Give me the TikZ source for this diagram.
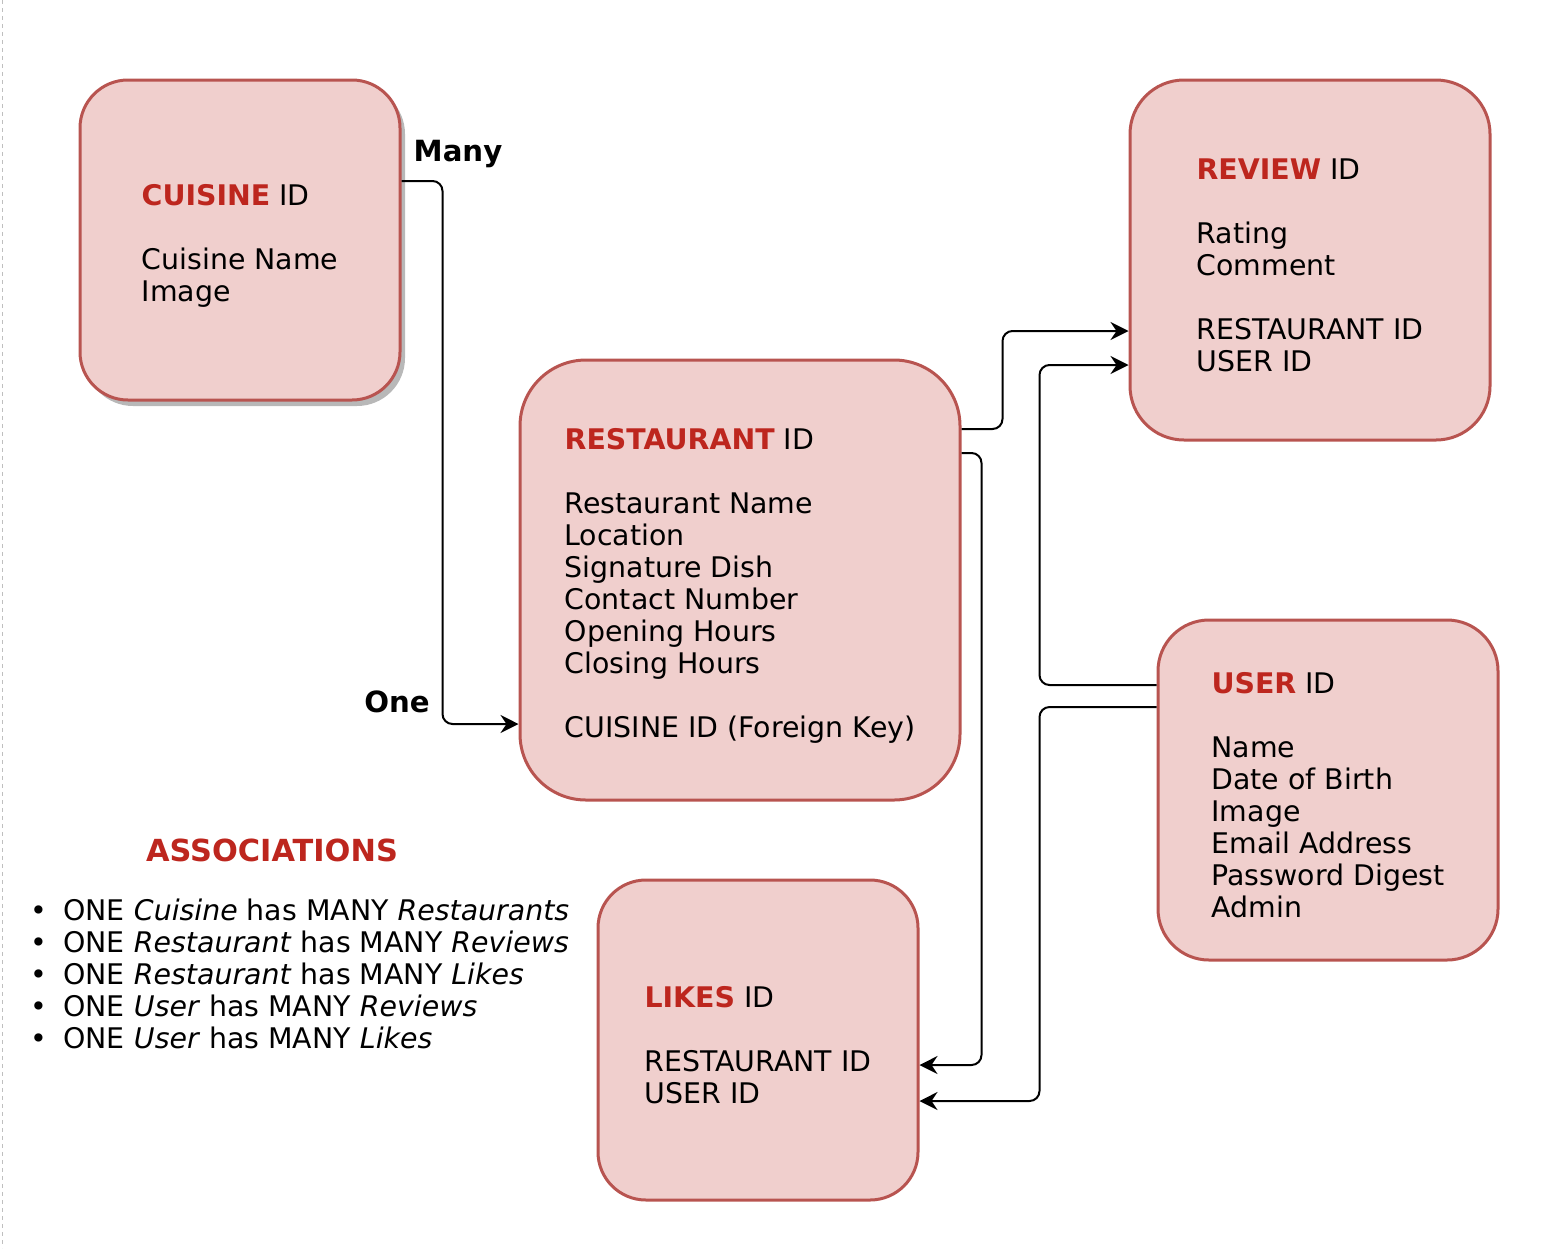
\documentclass[tikz,border=0pt]{standalone}
\usepackage{fontspec}
\setmainfont{DejaVu Sans}
\usepackage{tikz}
\usetikzlibrary{positioning,arrows.meta,shadows}
\definecolor{boxfill}{RGB}{240,207,205}
\definecolor{boxline}{RGB}{184,84,80}
\definecolor{titlered}{RGB}{189,38,30}
\newcommand{\enttitle}[1]{\rule{0pt}{16pt}\textbf{\textcolor{titlered}{#1}} ID}
\newcommand{\assocbul}{\makebox[16.5pt][l]{\textbullet}}

\begin{document}
\begin{tikzpicture}[x=0.5pt, y=-0.5pt,
    every node/.style={font=\fontsize{14.2}{16}\selectfont},
    entity/.style={draw=boxline, fill=boxfill, line width=1.5pt,
      rounded corners=#1, align=left},
    link/.style={-{Stealth[length=9pt,width=9pt,inset=3pt]},
      line width=1pt, rounded corners=5pt},
    card/.style={font=\fontsize{14.6}{16}\selectfont\bfseries}]
        \useasboundingbox (0,0) rectangle (1556,1248);
        % page edge
        \draw[gray!50, line width=0.5pt, dash pattern=on 2pt off 2pt]
              (2,0) -- (2,1248);
        % entities
        \node[entity=24pt, minimum width=160pt, minimum height=160pt,
              drop shadow={shadow xshift=2.5pt, shadow yshift=-3pt,
              fill=black!28, opacity=1}] (cuisine) at (240,240)
              {\enttitle{CUISINE}\\[16pt]
               Cuisine Name\\
               Image};
        \node[entity=33pt, minimum width=220pt, minimum height=220pt]
              (restaurant) at (740,580)
              {\enttitle{RESTAURANT}\\[16pt]
               Restaurant Name\\
               Location\\
               Signature Dish\\
               Contact Number\\
               Opening Hours\\
               Closing Hours\\[16pt]
               CUISINE ID (Foreign Key)};
        \node[entity=27pt, minimum width=180pt, minimum height=180pt]
              (review) at (1310,260)
              {\enttitle{REVIEW}\\[16pt]
               Rating\\
               Comment\\[16pt]
               RESTAURANT ID\\
               USER ID};
        \node[entity=25.5pt, minimum width=170pt, minimum height=170pt]
              (user) at (1328,790)
              {\enttitle{USER}\\[16pt]
               Name\\
               Date of Birth\\
               Image\\
               Email Address\\
               Password Digest\\
               Admin};
        \node[entity=24pt, minimum width=160pt, minimum height=160pt]
              (likes) at (758,1040)
              {\enttitle{LIKES}\\[16pt]
               RESTAURANT ID\\
               USER ID};
        % relations
        \draw[link] ([yshift=29.5pt]cuisine.east) -- ++(20.5pt,0)
              |- ([yshift=-72pt]restaurant.west);
        \node[card] (many) at (458,154) {Many};
        \node[card] (one) at (397,702) {One};
        \draw[link] ([yshift=75.5pt]restaurant.east) -- ++(20.5pt,0)
              |- ([yshift=-35.5pt]review.west);
        \draw[link] ([yshift=63.5pt]restaurant.east) -- ++(10pt,0)
              |- ([yshift=-12.5pt]likes.east);
        \draw[link] ([yshift=52.5pt]user.west) -- ++(-58.5pt,0)
              |- ([yshift=-52.5pt]review.west);
        \draw[link] ([yshift=41.5pt]user.west) -- ++(-58.5pt,0)
              |- ([yshift=-30.5pt]likes.east);
        % associations
        \node[card, text=titlered, font=\fontsize{15.2}{16}\selectfont\bfseries]
              (assoctitle) at (272,850) {ASSOCIATIONS};
        \node[align=left, anchor=west, inner sep=0pt] (assoclist) at (30,974)
              {\assocbul ONE \textit{Cuisine} has MANY \textit{Restaurants}\\
               \assocbul ONE \textit{Restaurant} has MANY \textit{Reviews}\\
               \assocbul ONE \textit{Restaurant} has MANY \textit{Likes}\\
               \assocbul ONE \textit{User} has MANY \textit{Reviews}\\
               \assocbul ONE \textit{User} has MANY \textit{Likes}};
      \end{tikzpicture}
\end{document}
